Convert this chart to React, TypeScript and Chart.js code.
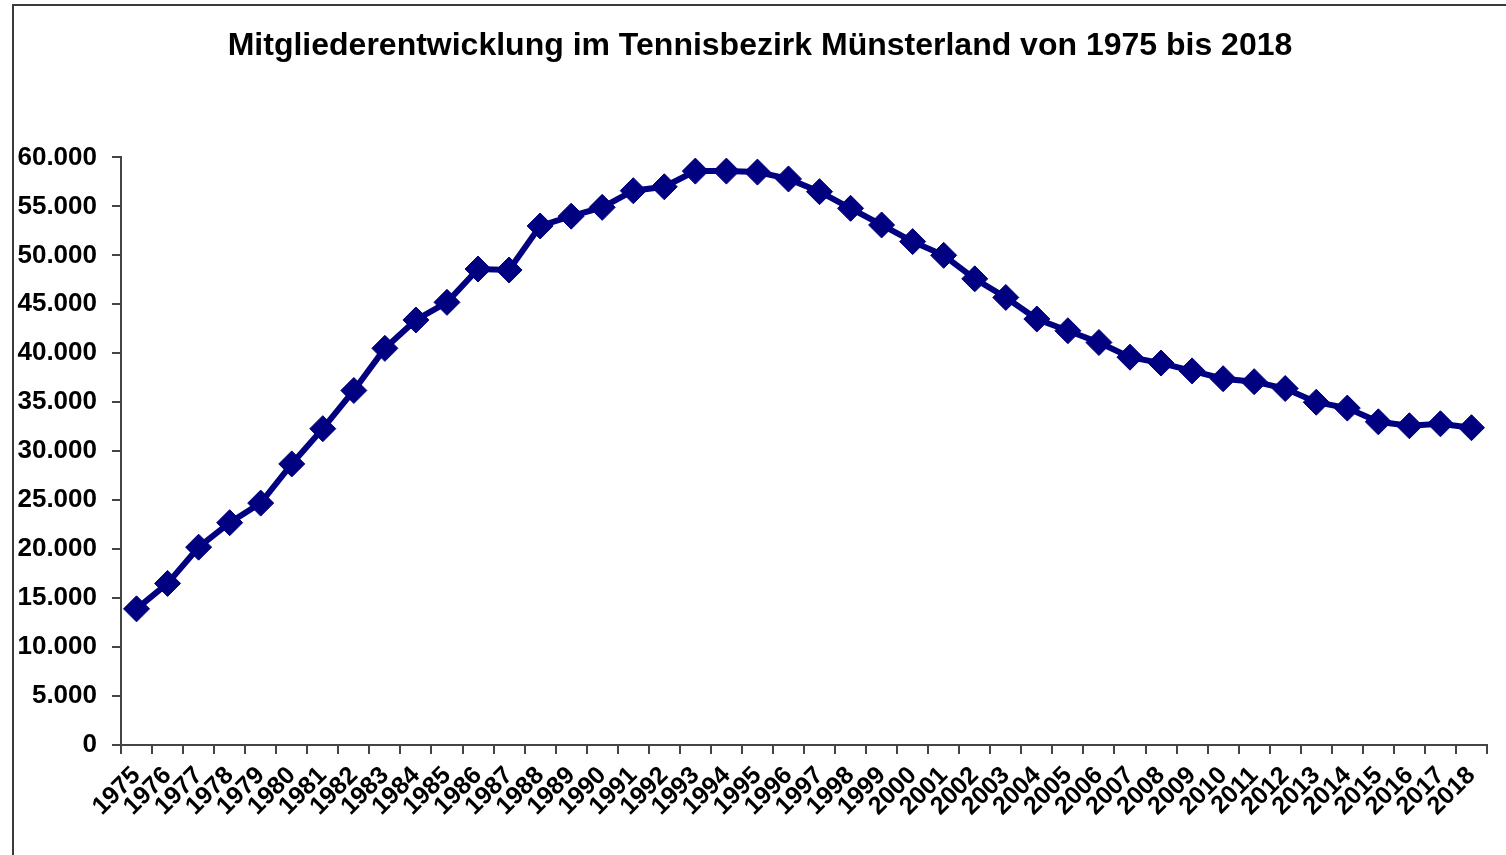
import React, { useEffect, useRef } from "react";
import { Chart, registerables } from "chart.js";

Chart.register(...registerables);

const TITLE = "Mitgliederentwicklung im Tennisbezirk Münsterland von 1975 bis 2018";

const years: string[] = [
  "1975", "1976", "1977", "1978", "1979", "1980", "1981", "1982", "1983", "1984",
  "1985", "1986", "1987", "1988", "1989", "1990", "1991", "1992", "1993", "1994",
  "1995", "1996", "1997", "1998", "1999", "2000", "2001", "2002", "2003", "2004",
  "2005", "2006", "2007", "2008", "2009", "2010", "2011", "2012", "2013", "2014",
  "2015", "2016", "2017", "2018",
];

const members: number[] = [
  13900, 16500, 20200, 22700, 24700, 28700, 32300, 36200, 40500, 43400,
  45200, 48600, 48500, 53000, 54000, 54900, 56600, 57000, 58600, 58600,
  58500, 57800, 56500, 54800, 53100, 51400, 50000, 47600, 45700, 43500,
  42300, 41100, 39600, 39000, 38200, 37400, 37100, 36400, 35000, 34400,
  33000, 32600, 32800, 32400,
];

const yMin = 0;
const yMax = 60000;
const yStep = 5000;

const FONT = '"Liberation Sans", Arial, Helvetica, sans-serif';

function formatDE(v: number): string {
  return String(Math.round(v)).replace(/\B(?=(\d{3})+(?!\d))/g, ".");
}

const framePlugin = {
  id: "frame",
  beforeDraw(chart: any) {
    const ctx = chart.ctx;
    ctx.save();
    ctx.fillStyle = "#ffffff";
    ctx.fillRect(0, 0, chart.width, chart.height);
    ctx.strokeStyle = "#3a3a3a";
    ctx.lineWidth = 2;
    ctx.beginPath();
    ctx.moveTo(13, chart.height);
    ctx.lineTo(13, 5);
    ctx.lineTo(chart.width, 5);
    ctx.stroke();
    ctx.restore();
  },
};

export default function App() {
  const ref = useRef<HTMLCanvasElement | null>(null);

  useEffect(() => {
    if (!ref.current) return;
    const chart = new Chart(ref.current, {
      type: "line",
      data: {
        labels: years,
        datasets: [
          {
            label: "Mitglieder",
            data: members,
            yAxisID: "y",
            borderColor: "#000080",
            backgroundColor: "#000080",
            borderWidth: 6,
            pointStyle: "rectRot",
            pointRadius: 13,
            pointBorderWidth: 1,
            pointBackgroundColor: "#000080",
            pointBorderColor: "#000080",
            tension: 0,
            fill: false,
          },
        ],
      },
      options: {
        responsive: false,
        animation: false,
        devicePixelRatio: 1,
        layout: { padding: { left: 14, right: 0, top: 0, bottom: 0 } },
        plugins: {
          legend: { display: false },
          tooltip: { enabled: false },
          title: {
            display: true,
            text: TITLE,
            color: "#000000",
            font: { family: FONT, size: 32, weight: "bold", lineHeight: 1.2 },
            padding: { top: 27, bottom: 92 },
          },
        },
        scales: {
          x: {
            type: "category",
            offset: true,
            grid: {
              offset: true,
              drawOnChartArea: false,
              drawTicks: true,
              tickLength: 9,
              color: "#444444",
              lineWidth: 2,
            },
            border: { color: "#444444", width: 2 },
            ticks: {
              autoSkip: false,
              maxRotation: 45,
              minRotation: 45,
              padding: 7,
              color: "#000000",
              font: { family: FONT, size: 25, weight: "bold" },
            },
            afterFit: (scale: any) => {
              scale.height = 110;
            },
          },
          y: {
            position: "left",
            min: yMin,
            max: yMax,
            grid: {
              drawOnChartArea: false,
              drawTicks: true,
              tickLength: 9,
              color: "#444444",
              lineWidth: 2,
            },
            border: { color: "#444444", width: 2 },
            ticks: {
              stepSize: yStep,
              padding: 15,
              color: "#000000",
              font: { family: FONT, size: 26, weight: "bold" },
              callback: (v: any) => formatDE(Number(v)),
            },
            afterFit: (scale: any) => {
              scale.width = 107;
            },
          },
          spacer: {
            position: "right",
            display: true,
            min: yMin,
            max: yMax,
            grid: { display: false, drawTicks: false },
            border: { display: false },
            ticks: { display: false },
            afterFit: (scale: any) => {
              scale.width = 19;
            },
          },
        },
      },
      plugins: [framePlugin],
    });
    return () => chart.destroy();
  }, []);

  return (
    <div style={{ position: "fixed", left: 0, top: 0, width: 1506, height: 855, background: "#fff" }}>
      <canvas ref={ref} width={1506} height={855} style={{ width: 1506, height: 855, display: "block" }} />
    </div>
  );
}
